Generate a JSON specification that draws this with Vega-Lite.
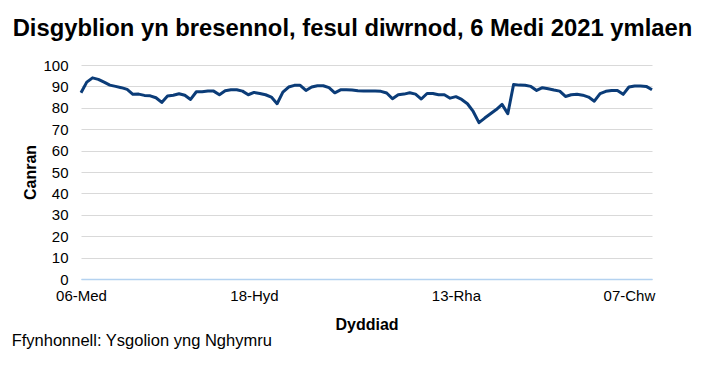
{
  "$schema": "https://vega.github.io/schema/vega-lite/v6.json",
  "padding": {"left": 11, "top": 17, "right": 10, "bottom": 10},
  "background": "white",
  "config": {
    "font": "Liberation Sans",
    "view": {"stroke": null},
    "concat": {"spacing": 0}
  },
  "title": {
    "text": "Ffynhonnell: Ysgolion yng Nghymru",
    "orient": "bottom",
    "anchor": "start",
    "frame": "bounds",
    "dx": -1,
    "offset": 1,
    "font": "Liberation Sans",
    "fontSize": 16.5,
    "fontWeight": "normal",
    "color": "#000000"
  },
  "vconcat": [
    {
      "title": {
        "text": "Disgyblion yn bresennol, fesul diwrnod, 6 Medi 2021 ymlaen",
        "anchor": "middle",
        "frame": "group",
        "dx": -14,
        "offset": 17,
        "font": "Liberation Sans",
        "fontSize": 23.8,
        "fontWeight": "bold",
        "color": "#000000"
      },
      "width": 571,
      "height": 214,
      "data": {
        "values": [
          {"Dyddiad": "06-Med", "Canran": 87.0},
          {"Dyddiad": "07-Med", "Canran": 92.0},
          {"Dyddiad": "08-Med", "Canran": 94.0},
          {"Dyddiad": "09-Med", "Canran": 93.3},
          {"Dyddiad": "10-Med", "Canran": 92.0},
          {"Dyddiad": "13-Med", "Canran": 90.6},
          {"Dyddiad": "14-Med", "Canran": 90.0},
          {"Dyddiad": "15-Med", "Canran": 89.4},
          {"Dyddiad": "16-Med", "Canran": 88.6},
          {"Dyddiad": "17-Med", "Canran": 86.3},
          {"Dyddiad": "20-Med", "Canran": 86.4},
          {"Dyddiad": "21-Med", "Canran": 85.8},
          {"Dyddiad": "22-Med", "Canran": 85.6},
          {"Dyddiad": "23-Med", "Canran": 84.7},
          {"Dyddiad": "24-Med", "Canran": 82.5},
          {"Dyddiad": "27-Med", "Canran": 85.5},
          {"Dyddiad": "28-Med", "Canran": 85.9},
          {"Dyddiad": "29-Med", "Canran": 86.6},
          {"Dyddiad": "30-Med", "Canran": 85.9},
          {"Dyddiad": "01-Hyd", "Canran": 83.9},
          {"Dyddiad": "04-Hyd", "Canran": 87.5},
          {"Dyddiad": "05-Hyd", "Canran": 87.5},
          {"Dyddiad": "06-Hyd", "Canran": 87.8},
          {"Dyddiad": "07-Hyd", "Canran": 87.8},
          {"Dyddiad": "08-Hyd", "Canran": 86.1},
          {"Dyddiad": "11-Hyd", "Canran": 88.0},
          {"Dyddiad": "12-Hyd", "Canran": 88.4},
          {"Dyddiad": "13-Hyd", "Canran": 88.4},
          {"Dyddiad": "14-Hyd", "Canran": 87.8},
          {"Dyddiad": "15-Hyd", "Canran": 86.1},
          {"Dyddiad": "18-Hyd", "Canran": 87.2},
          {"Dyddiad": "19-Hyd", "Canran": 86.7},
          {"Dyddiad": "20-Hyd", "Canran": 86.1},
          {"Dyddiad": "21-Hyd", "Canran": 85.0},
          {"Dyddiad": "22-Hyd", "Canran": 81.9},
          {"Dyddiad": "01-Tach", "Canran": 87.3},
          {"Dyddiad": "02-Tach", "Canran": 89.7},
          {"Dyddiad": "03-Tach", "Canran": 90.5},
          {"Dyddiad": "04-Tach", "Canran": 90.5},
          {"Dyddiad": "05-Tach", "Canran": 88.1},
          {"Dyddiad": "08-Tach", "Canran": 89.7},
          {"Dyddiad": "09-Tach", "Canran": 90.3},
          {"Dyddiad": "10-Tach", "Canran": 90.3},
          {"Dyddiad": "11-Tach", "Canran": 89.4},
          {"Dyddiad": "12-Tach", "Canran": 87.0},
          {"Dyddiad": "15-Tach", "Canran": 88.4},
          {"Dyddiad": "16-Tach", "Canran": 88.4},
          {"Dyddiad": "17-Tach", "Canran": 88.3},
          {"Dyddiad": "18-Tach", "Canran": 88.0},
          {"Dyddiad": "19-Tach", "Canran": 87.9},
          {"Dyddiad": "22-Tach", "Canran": 87.8},
          {"Dyddiad": "23-Tach", "Canran": 87.8},
          {"Dyddiad": "24-Tach", "Canran": 87.7},
          {"Dyddiad": "25-Tach", "Canran": 86.9},
          {"Dyddiad": "26-Tach", "Canran": 84.2},
          {"Dyddiad": "29-Tach", "Canran": 86.1},
          {"Dyddiad": "30-Tach", "Canran": 86.4},
          {"Dyddiad": "01-Rha", "Canran": 87.0},
          {"Dyddiad": "02-Rha", "Canran": 86.4},
          {"Dyddiad": "03-Rha", "Canran": 84.1},
          {"Dyddiad": "06-Rha", "Canran": 86.7},
          {"Dyddiad": "07-Rha", "Canran": 86.7},
          {"Dyddiad": "08-Rha", "Canran": 86.1},
          {"Dyddiad": "09-Rha", "Canran": 86.1},
          {"Dyddiad": "10-Rha", "Canran": 84.5},
          {"Dyddiad": "13-Rha", "Canran": 85.2},
          {"Dyddiad": "14-Rha", "Canran": 83.9},
          {"Dyddiad": "15-Rha", "Canran": 81.9},
          {"Dyddiad": "16-Rha", "Canran": 78.3},
          {"Dyddiad": "17-Rha", "Canran": 73.1},
          {"Dyddiad": "20-Rha", "Canran": 75.2},
          {"Dyddiad": "04-Ion", "Canran": 77.2},
          {"Dyddiad": "05-Ion", "Canran": 79.2},
          {"Dyddiad": "06-Ion", "Canran": 81.6},
          {"Dyddiad": "07-Ion", "Canran": 77.2},
          {"Dyddiad": "10-Ion", "Canran": 90.9},
          {"Dyddiad": "11-Ion", "Canran": 90.6},
          {"Dyddiad": "12-Ion", "Canran": 90.5},
          {"Dyddiad": "13-Ion", "Canran": 90.0},
          {"Dyddiad": "14-Ion", "Canran": 88.1},
          {"Dyddiad": "17-Ion", "Canran": 89.4},
          {"Dyddiad": "18-Ion", "Canran": 88.9},
          {"Dyddiad": "19-Ion", "Canran": 88.3},
          {"Dyddiad": "20-Ion", "Canran": 87.8},
          {"Dyddiad": "21-Ion", "Canran": 85.3},
          {"Dyddiad": "24-Ion", "Canran": 86.1},
          {"Dyddiad": "25-Ion", "Canran": 86.3},
          {"Dyddiad": "26-Ion", "Canran": 85.9},
          {"Dyddiad": "27-Ion", "Canran": 85.0},
          {"Dyddiad": "28-Ion", "Canran": 83.1},
          {"Dyddiad": "31-Ion", "Canran": 86.6},
          {"Dyddiad": "01-Chw", "Canran": 87.7},
          {"Dyddiad": "02-Chw", "Canran": 88.1},
          {"Dyddiad": "03-Chw", "Canran": 88.1},
          {"Dyddiad": "04-Chw", "Canran": 86.3},
          {"Dyddiad": "07-Chw", "Canran": 89.7},
          {"Dyddiad": "08-Chw", "Canran": 90.2},
          {"Dyddiad": "09-Chw", "Canran": 90.2},
          {"Dyddiad": "10-Chw", "Canran": 90.0},
          {"Dyddiad": "11-Chw", "Canran": 88.4}
        ]
      },
      "mark": {"type": "line", "color": "#0b3c78", "strokeWidth": 3, "strokeJoin": "round"},
      "encoding": {
        "x": {
          "field": "Dyddiad",
          "type": "ordinal",
          "sort": null,
          "scale": {"type": "point", "padding": 0},
          "axis": {
            "title": "Dyddiad",
            "values": ["06-Med", "18-Hyd", "13-Rha", "07-Chw"],
            "labelAngle": 0,
            "labelFont": "Liberation Sans",
            "labelFontSize": 15,
            "labelColor": "#000000",
            "labelPadding": 9,
            "ticks": false,
            "grid": false,
            "domain": true,
            "domainColor": "#b4d2f0",
            "domainWidth": 1.5,
            "titleFont": "Liberation Sans",
            "titleFontSize": 16,
            "titleFontWeight": "bold",
            "titleColor": "#000000",
            "titlePadding": 13
          }
        },
        "y": {
          "field": "Canran",
          "type": "quantitative",
          "scale": {"domain": [0, 100], "nice": false},
          "axis": {
            "title": "Canran",
            "values": [0, 10, 20, 30, 40, 50, 60, 70, 80, 90, 100],
            "labelFont": "Liberation Sans",
            "labelFontSize": 15,
            "labelColor": "#000000",
            "labelPadding": 13,
            "ticks": false,
            "domain": false,
            "grid": true,
            "gridColor": {"condition": {"test": "datum.value === 0", "value": "#b4d2f0"}, "value": "#d9d9d9"},
            "gridWidth": 1,
            "titleFont": "Liberation Sans",
            "titleFontSize": 16,
            "titleFontWeight": "bold",
            "titleColor": "#000000",
            "titlePadding": 4
          }
        }
      }
    }
  ]
}
